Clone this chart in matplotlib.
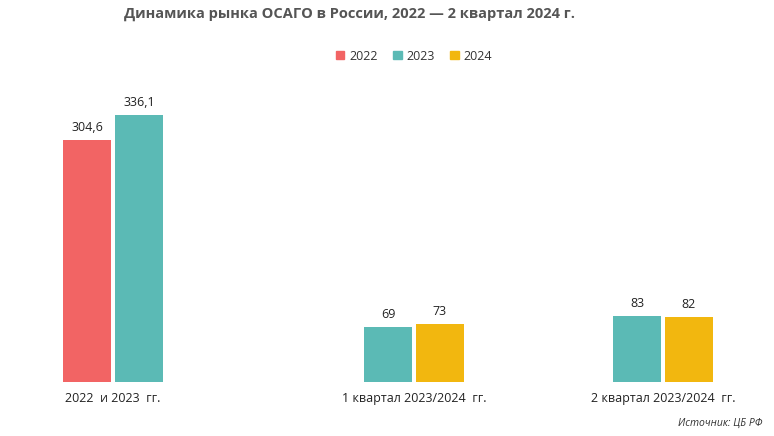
import matplotlib
matplotlib.use("Agg")
import matplotlib.pyplot as plt

plt.rcParams['font.family'] = ['Open Sans', 'DejaVu Sans']

groups = ['2022  и 2023  гг.', '1 квартал 2023/2024  гг.', '2 квартал 2023/2024  гг.']
series = ['2022', '2023', '2024']
colors = {'2022': '#F26464', '2023': '#5BBAB5', '2024': '#F2B70F'}
# (group index, series, value, label)
bars = [
    (0, '2022', 304.6, '304,6'),
    (0, '2023', 336.1, '336,1'),
    (1, '2023', 69, '69'),
    (1, '2024', 73, '73'),
    (2, '2023', 83, '83'),
    (2, '2024', 82, '82'),
]

# group centres in pixel units of the x axis
centres = [113, 414, 663]

fig = plt.figure(figsize=(7.74, 4.36), dpi=100)
ax = fig.add_axes([0, 54/436, 1, 322/436])
ax.set_xlim(0, 774)
ax.set_ylim(0, 405.5)
ax.axis('off')

for g, c in enumerate(centres):
    gb = [b for b in bars if b[0] == g]
    for (gi, s, v, lab), o in zip(gb, [-26, 26]):
        ax.bar(c + o, v, width=48, color=colors[s])
        ax.text(c + o, v + 8, lab, ha='center', va='bottom', fontsize=9, color='#222222')
    ax.text(c, -12, groups[g], ha='center', va='top', fontsize=9, color='#222222')

handles = [plt.Rectangle((0, 0), 1, 1, color=colors[s]) for s in series]
fig.legend(handles, series, loc='center', bbox_to_anchor=(0.535, 1 - 56/436), ncol=3,
           frameon=False, fontsize=9, handlelength=0.7, handleheight=0.7,
           handletextpad=0.4, columnspacing=1.2, labelcolor='#333333')

fig.text(0.452, 1 - 14/436, 'Динамика рынка ОСАГО в России, 2022 — 2 квартал 2024 г.',
         ha='center', va='center', fontsize=10.5, fontweight='bold', color='#555555')
fig.text(0.985, 1 - 423/436, 'Источник: ЦБ РФ', ha='right', va='center',
         fontsize=7.5, style='italic', color='#333333')

fig.savefig('out.png', dpi=100)
